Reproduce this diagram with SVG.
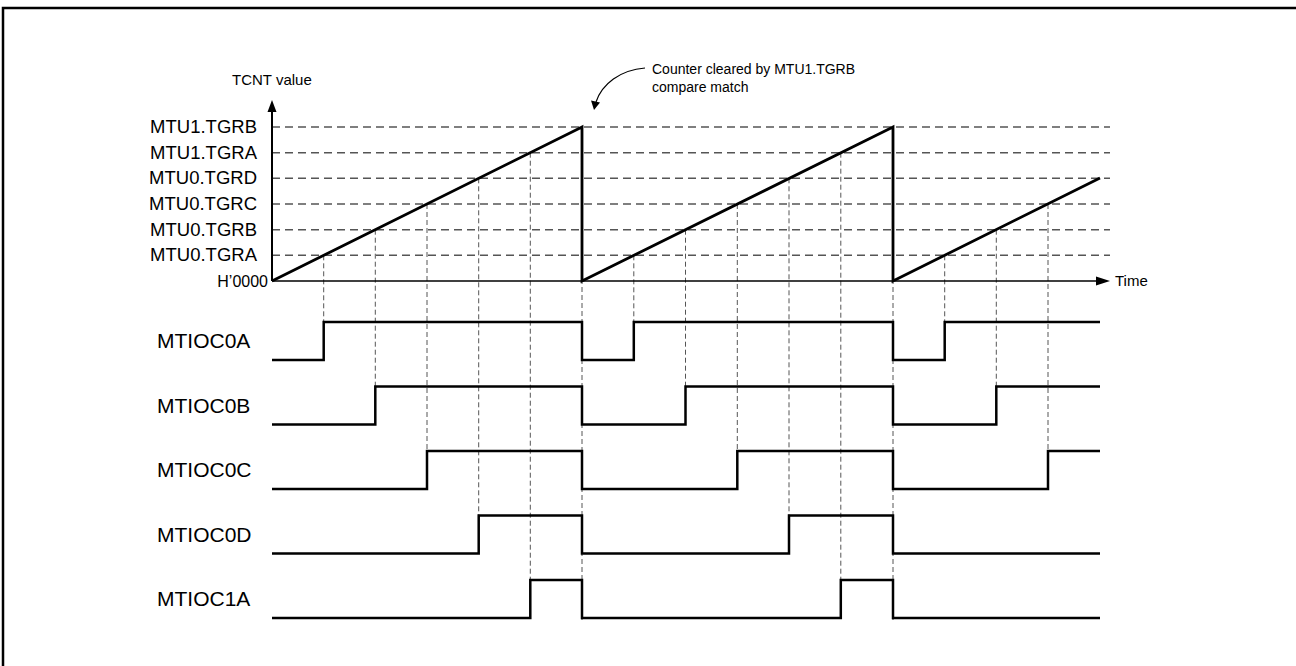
<svg xmlns="http://www.w3.org/2000/svg" width="1296" height="666" viewBox="0 0 1296 666">
<style>
text{font-family:"Liberation Sans",Arial,sans-serif;fill:#000}
.lvl{font-size:18.5px;text-anchor:end}
.sig{font-size:21px}
.note{font-size:14px}
.hd{stroke:#555;stroke-width:1.5;stroke-dasharray:8 5;fill:none}
.vd{stroke:#555;stroke-width:1;stroke-dasharray:5 3;fill:none}
.wave{stroke:#000;stroke-width:2.5;fill:none;stroke-linejoin:miter}
.axis{stroke:#000;stroke-width:1.5;fill:none}
</style>
<rect x="3" y="8" width="1320" height="700" fill="#fff" stroke="#000" stroke-width="2.5"/>

<g id="levels">
<text class="lvl" x="257" y="133">MTU1.TGRB</text>
<text class="lvl" x="257" y="159">MTU1.TGRA</text>
<text class="lvl" x="257" y="184">MTU0.TGRD</text>
<text class="lvl" x="257" y="210">MTU0.TGRC</text>
<text class="lvl" x="257" y="236">MTU0.TGRB</text>
<text class="lvl" x="257" y="261">MTU0.TGRA</text>
<text x="268" y="287" style="font-size:16px;text-anchor:end">H’0000</text>
<text x="232" y="85" style="font-size:15px">TCNT value</text>
<text x="1115" y="286" style="font-size:15px">Time</text>
</g>

<g id="connectors">
<path class="hd" d="M272,127H1110M272,152.7H1110M272,178.3H1110M272,204H1110M272,229.7H1110M272,255.3H1110"/>
<path class="vd" d="M323.7,255.3V322M375.3,229.7V386.5M427,204V451M478.7,178.3V515.5M530.3,152.7V580M582,127V620
M633.8,255.3V322M685.5,229.7V386.5M737.3,204V451M789,178.3V515.5M840.8,152.7V580M893,127V620
M944.7,255.3V322M996.3,229.7V386.5M1048,204V451"/>
<path class="axis" d="M272,281H1100"/>
<path d="M1096,276.5L1110,281L1096,285.5z" fill="#000"/>
<path d="M272,281V110" stroke="#000" stroke-width="2" fill="none"/>
<path d="M267.5,112L272,100L276.5,112z" fill="#000"/>
<path class="wave" d="M272,281L582,127V281L893,127V281L1100,178" style="stroke-width:2.8"/>
<path d="M645,68C620,70 602,84 596,102" stroke="#000" stroke-width="1.2" fill="none"/>
<path d="M591,100.5L594,110L600,102.5z" fill="#000"/>
<text class="note" x="652" y="74">Counter cleared by MTU1.TGRB</text>
<text class="note" x="652" y="92">compare match</text>
</g>

<g id="MTIOC0A">
<text class="sig" x="157" y="348">MTIOC0A</text>
<path class="wave" d="M272,360H323.7V322H582V360H633.8V322H893V360H944.7V322H1100"/>
</g>
<g id="MTIOC0B">
<text class="sig" x="157" y="412.5">MTIOC0B</text>
<path class="wave" d="M272,424.5H375.3V386.5H582V424.5H685.5V386.5H893V424.5H996.3V386.5H1100"/>
</g>
<g id="MTIOC0C">
<text class="sig" x="157" y="477">MTIOC0C</text>
<path class="wave" d="M272,489H427V451H582V489H737.3V451H893V489H1048V451H1100"/>
</g>
<g id="MTIOC0D">
<text class="sig" x="157" y="541.5">MTIOC0D</text>
<path class="wave" d="M272,553.5H478.7V515.5H582V553.5H789V515.5H893V553.5H1100"/>
</g>
<g id="MTIOC1A">
<text class="sig" x="157" y="606">MTIOC1A</text>
<path class="wave" d="M272,618H530.3V580H582V618H840.8V580H893V618H1100"/>
</g>
</svg>
